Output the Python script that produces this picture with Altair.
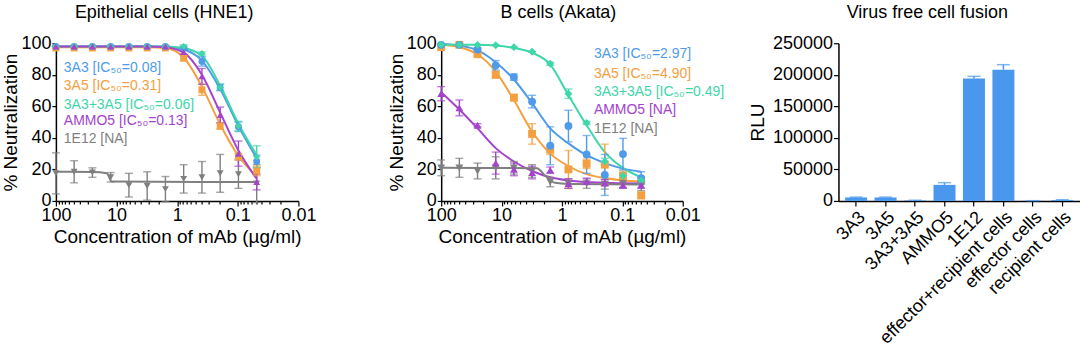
import altair as alt
import pandas as pd

FONT = "Liberation Sans"

# ---------------- shared ----------------
CONC = [100, 50, 25, 12.5, 6.25, 3.125, 1.5625, 0.78125, 0.390625,
        0.1953125, 0.09765625, 0.048828125]
SERIES = ["3A3", "3A5", "3A3+3A5", "AMMO5", "1E12"]
COLORS = ["#4F9BEA", "#F4A040", "#3FD6AA", "#A444CC", "#7F7F7F"]
SHAPES = ["circle", "square", "diamond", "triangle-up", "triangle-down"]
DRAW_ORDER = ["1E12", "3A5", "3A3", "3A3+3A5", "AMMO5"]

# ---------------- Epithelial cells (HNE1) ----------------
HNE_VAL = {
    "3A3":     [98, 98, 98, 98, 98, 98, 98, 97, 88.5, 72, 47, 25],
    "3A5":     [97, 97, 97, 97, 97, 97, 97, 90.5, 70.5, 47.5, 28, 19],
    "3A3+3A5": [98, 98, 98, 98, 98, 98, 98, 98, 93.5, 72, 47.5, 28],
    "AMMO5":   [98, 98, 98, 98, 98, 98, 98, 94.5, 79, 54.5, 30, 12],
    "1E12":    [17.5, 18.5, 18, 15, 10, 9.5, 7.5, 14, 15, 17.5, 17, 11],
}
HNE_ERR = {
    "3A3":     [0, 0, 0, 0, 0, 0, 0, 1, 3, 2, 3, 4],
    "3A5":     [0, 0, 0, 0, 0, 0, 0, 1.5, 3.5, 2, 2, 3],
    "3A3+3A5": [0, 0, 0, 0, 0, 0, 0, 1, 1, 2, 3, 7],
    "AMMO5":   [0, 0, 0, 0, 0, 0, 0, 1.5, 5, 5, 8, 5],
    "1E12":    [13, 7, 3, 3, 7.5, 9, 8, 9, 10, 12, 9, 12],
}
HNE_CURVE = {
    "3A3":     [98, 98, 98, 98, 98, 98, 97.8, 96, 89, 71, 47.5, 27],
    "3A5":     [97.5, 97.5, 97.5, 97.5, 97.5, 97.5, 97, 91, 72.5, 48.5, 28.5, 15.5],
    "3A3+3A5": [98, 98, 98, 98, 98, 98, 98, 97, 92, 73, 49, 29],
    "AMMO5":   [98, 98, 98, 98, 98, 98, 97.5, 94, 80, 56, 32, 14],
}
HNE_1E12_CURVE_CONC = [100, 25, 14.5, 12, 0.048828125]
HNE_1E12_CURVE_VAL = [18.5, 18.3, 17.6, 12.3, 12]
HNE_LEG_TEXT = ["3A3 [IC₅₀=0.08]", "3A5 [IC₅₀=0.31]", "3A3+3A5 [IC₅₀=0.06]",
                "AMMO5 [IC₅₀=0.13]", "1E12 [NA]"]
HNE_LEG_X = 74
HNE_LEG_Y = [84.5, 73, 61, 50.5, 39.5]

# ---------------- B cells (Akata) ----------------
AK_VAL = {
    "3A3":     [99, 99, 96, 86, 78.5, 63, 35, 47.5, 29.5, 16.5, 29.7, 14.5],
    "3A5":     [97.5, 99, 93, 80, 65.5, 42.5, 32.5, 20, 23.5, 23, 16, 3.5],
    "3A3+3A5": [99, 99, 99, 98.7, 97.5, 94.6, 87, 68, 49.5, 25, 16, 13],
    "AMMO5":   [68, 59, 48, 24, 20, 18, 19.5, 11, 12.5, 11.5, 10, 10],
    "1E12":    [21, 21, 19, 21, 21, 19, 12, 11, 11, 10.5, 11.5, 9.5],
}
AK_ERR = {
    "3A3":     [0, 0, 1, 3, 2, 4, 12, 10, 12, 13, 10, 4],
    "3A5":     [1, 0, 1, 2, 2, 6.5, 3, 12, 3, 13, 3, 2],
    "3A3+3A5": [0, 0, 0, 0, 0, 0, 1, 3, 1, 2, 2, 2],
    "AMMO5":   [4.5, 5, 1, 7, 4, 4, 2, 3, 2, 2, 2, 2],
    "1E12":    [5, 6, 5, 7, 4, 4, 3, 3, 3, 3, 3, 3],
}
AK_CURVE = {
    "3A3":     [99.5, 98.5, 95.5, 88, 77, 62, 46, 36.5, 29, 24, 20.5, 18.5],
    "3A5":     [99, 97.5, 93, 82, 64, 44, 30, 22, 17, 14.5, 13, 12.5],
    "3A3+3A5": [99, 99, 99, 98.5, 97, 94, 86.5, 67, 48, 31, 21, 15],
    "AMMO5":   [69, 58, 46, 33.5, 25, 19, 15, 13, 12, 11.5, 11.2, 11],
}
AK_1E12_CURVE_CONC = [100, 2.6, 1.9, 1.3, 0.78125, 0.048828125]
AK_1E12_CURVE_VAL = [21, 20.8, 16, 11.5, 10.8, 10.5]
AK_LEG_TEXT = ["3A3 [IC₅₀=2.97]", "3A5 [IC₅₀=4.90]", "3A3+3A5 [IC₅₀=0.49]",
               "AMMO5 [NA]", "1E12 [NA]"]
AK_LEG_X = 0.296
AK_LEG_Y = [93, 80.5, 69, 57.5, 45.5]

# ---------------- Virus free cell fusion ----------------
BAR_CATS = ["3A3", "3A5", "3A3+3A5", "AMMO5", "1E12",
            "effector+recipient cells", "effector cells", "recipient cells"]
BAR_VALS = [5500, 5500, 800, 25500, 194000, 208000, 300, 1500]
BAR_ERR = [600, 600, 300, 3500, 3500, 8000, 100, 500]
BAR_COLOR = "#4A98EE"

# ---------------- helpers ----------------
XTICKS = [100] + [round(b * m, 6) for b in [10, 1, 0.1, 0.01] for m in range(9, 0, -1)]
YTICKS = [0, 20, 40, 60, 80, 100]
IS_DECADE = "abs(log(datum.value)/LN10 - round(log(datum.value)/LN10)) < 0.001"
TITLE_OFFSET = 12


def points_frame(vals, errs):
    rows = []
    for s in DRAW_ORDER:
        for c, v, e in zip(CONC, vals[s], errs[s]):
            rows.append({"series": s, "conc": c, "val": v, "lo": v - e, "hi": v + e,
                         "ord": DRAW_ORDER.index(s)})
    return pd.DataFrame(rows)


def curve_frame(curves, gconc, gval):
    rows = []
    for s, vals in curves.items():
        for c, v in zip(CONC, vals):
            rows.append({"series": s, "conc": c, "val": v})
    for c, v in zip(gconc, gval):
        rows.append({"series": "1E12", "conc": c, "val": v})
    return pd.DataFrame(rows)


def legend_frame(texts, x, ys):
    return pd.DataFrame({"series": SERIES, "label": texts, "tx": [x] * 5, "ty": ys})


def dose_panel(pts, crv, leg, title, dx, width, xrange, msize):
    xs = alt.Scale(type="log", domain=[100, 0.01], range=xrange, nice=False)
    ys = alt.Scale(domain=[0, 100], nice=False)
    color = alt.Color("series:N", scale=alt.Scale(domain=SERIES, range=COLORS), legend=None)
    xaxis = alt.Axis(values=XTICKS, title="Concentration of mAb (µg/ml)",
                     labelExpr=IS_DECADE + " ? format(datum.value, '~g') : ''",
                     tickSize={"condition": {"test": IS_DECADE, "value": 5}, "value": 3},
                     labelPadding=1, titlePadding=3, labelFlush=False, labelOverlap=False)
    yaxis = alt.Axis(values=YTICKS, title="% Neutralization", tickCount=6,
                     tickSize=4, labelPadding=1, titlePadding=0, labelOverlap=False)

    def Y(field):
        return alt.Y(field, scale=ys, axis=yaxis)

    def Xc():
        return alt.X("conc:Q", scale=xs, axis=xaxis)

    curves = alt.Chart(crv).mark_line(strokeWidth=2, interpolate="monotone").encode(
        x=Xc(), y=Y("val:Q"), color=color, detail="series:N")
    rules = alt.Chart(pts).mark_rule(strokeWidth=1.4).encode(
        x=Xc(), y=Y("lo:Q"), y2="hi:Q", color=color)
    cap_hi = alt.Chart(pts).mark_tick(orient="horizontal", size=8, thickness=1.4).encode(
        x=Xc(), y=Y("hi:Q"), color=color)
    cap_lo = alt.Chart(pts).mark_tick(orient="horizontal", size=8, thickness=1.4).encode(
        x=Xc(), y=Y("lo:Q"), color=color)
    pts_m = alt.Chart(pts).mark_point(filled=True, size=msize, opacity=1).encode(
        x=Xc(), y=Y("val:Q"), color=color, order="ord:Q",
        shape=alt.Shape("series:N", scale=alt.Scale(domain=SERIES, range=SHAPES), legend=None))
    text = alt.Chart(leg).mark_text(align="left", baseline="middle", fontSize=14, font=FONT).encode(
        x=alt.X("tx:Q", scale=xs, axis=xaxis), y=Y("ty:Q"), text="label:N", color=color)
    return alt.layer(curves, rules, cap_hi, cap_lo, pts_m, text).properties(
        width=width, height=158,
        title=alt.TitleParams(title, dx=dx, frame="group", anchor="middle", offset=TITLE_OFFSET))


p1 = dose_panel(points_frame(HNE_VAL, HNE_ERR),
                curve_frame(HNE_CURVE, HNE_1E12_CURVE_CONC, HNE_1E12_CURVE_VAL),
                legend_frame(HNE_LEG_TEXT, HNE_LEG_X, HNE_LEG_Y),
                "Epithelial cells (HNE1)", -13, 243, [0, 243], 48)
p2 = dose_panel(points_frame(AK_VAL, AK_ERR),
                curve_frame(AK_CURVE, AK_1E12_CURVE_CONC, AK_1E12_CURVE_VAL),
                legend_frame(AK_LEG_TEXT, AK_LEG_X, AK_LEG_Y),
                "B cells (Akata)", -10, 255, [0, 242], 62)

bar_df = pd.DataFrame({"cat": BAR_CATS, "val": BAR_VALS,
                       "hi": [v + e for v, e in zip(BAR_VALS, BAR_ERR)]})
bxaxis = alt.Axis(labelAngle=-45, tickSize=5, labelPadding=2, labelOverlap=False)
bxscale = alt.Scale(paddingInner=0.254, paddingOuter=0.227)
byaxis = alt.Axis(values=[0, 50000, 100000, 150000, 200000, 250000], format="d",
                  title="RLU", tickSize=5, labelPadding=1, titlePadding=5,
                  labelOverlap=False)
byscale = alt.Scale(domain=[0, 250000], nice=False)


def BX():
    return alt.X("cat:N", sort=BAR_CATS, title=None, scale=bxscale, axis=bxaxis)


def BY(field):
    return alt.Y(field, scale=byscale, axis=byaxis)


bars = alt.Chart(bar_df).mark_bar(color=BAR_COLOR).encode(x=BX(), y=BY("val:Q"))
berr = alt.Chart(bar_df).mark_rule(color=BAR_COLOR, strokeWidth=1.5).encode(
    x=BX(), y=BY("val:Q"), y2="hi:Q")
bcap = alt.Chart(bar_df).mark_tick(color=BAR_COLOR, orient="horizontal", size=13, thickness=1.5).encode(
    x=BX(), y=BY("hi:Q"))
p3 = alt.layer(bars, berr, bcap).properties(
    width=242, height=158,
    title=alt.TitleParams("Virus free cell fusion", dx=-32, frame="group", anchor="middle",
                          offset=TITLE_OFFSET))

chart = alt.hconcat(p1, p2, p3, spacing=143, bounds="flush").properties(
    padding={"left": 1, "top": 4, "right": 0, "bottom": 0}
).configure_view(stroke=None).configure_axis(
    labelFont=FONT, titleFont=FONT, labelFontSize=18, titleFontSize=19,
    labelColor="black", titleColor="black", titleFontWeight="normal",
    domainColor="black", tickColor="black", domainWidth=1.5, tickWidth=1.2, grid=False,
    labelOverlap=False
).configure_title(font=FONT, fontSize=18, fontWeight="normal", color="black")

chart.save("out.html", embed_options={"renderer": "svg", "actions": False})
